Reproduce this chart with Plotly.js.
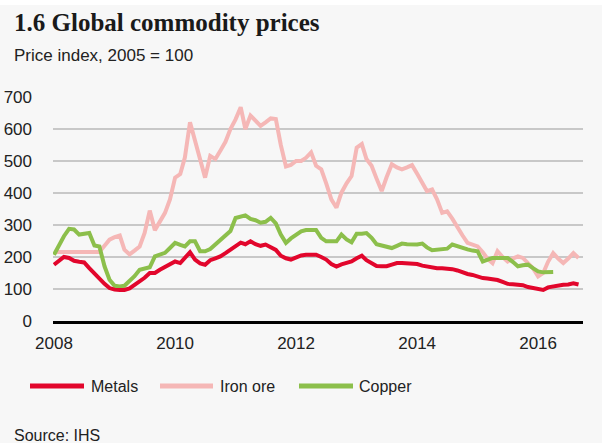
<!DOCTYPE html>
<html>
<head>
<meta charset="utf-8">
<script src="https://cdn.plot.ly/plotly-3.0.1.min.js"></script>
<style>
  html, body { margin: 0; padding: 0; background: #f7f7f7; }
  #chart { width: 602px; height: 443px; }
</style>
</head>
<body>
<div id="chart"></div>
<script>
// ---- Data (monthly, starting January 2008), price index 2005 = 100 ----
const startYear = 2008;
const startMonth = 1;

const seriesNames = ["Metals", "Iron ore", "Copper"];

const metals = [
  176, 190, 200, 197, 188, 185, 183, 165, 148, 130,
  116, 103, 98, 97, 97, 102, 112, 124, 135, 150,
  150, 160, 168, 176, 186, 181, 198, 215, 192, 180,
  176, 190, 196, 202, 212, 223, 235, 245, 240, 249,
  240, 235, 239, 230, 222, 204, 196, 192, 200, 205,
  207, 207, 207, 200, 192, 178, 170, 177, 181, 186,
  196, 204, 190, 180, 172, 171, 171, 176, 181, 181,
  181, 181, 178, 173, 171, 166, 165, 165, 165, 162,
  158, 152, 147, 144, 138, 134, 133, 132, 128, 122,
  116, 115, 114, 112, 106, 103, 98, 97, 105, 108,
  112, 113, 114, 118, 114
];

const ironOre = [
  216, 216, 216, 216, 216, 216, 216, 216, 216, 216,
  235, 254, 262, 267, 223, 208, 220, 233, 275, 345,
  284, 310, 338, 380, 448, 459, 511, 621, 560, 500,
  448, 516, 506, 532, 560, 600, 630, 668, 600, 642,
  625, 610, 621, 633, 631, 550, 483, 488, 500, 500,
  510, 527, 485, 474, 430, 380, 354, 401, 430, 453,
  542, 553, 506, 485, 445, 406, 450, 490, 480, 474,
  480, 487, 460, 430, 406, 411, 380, 338, 343, 320,
  291, 268, 244, 238, 233, 215, 195, 181, 218, 200,
  186, 195, 202, 197, 180, 165, 139, 150, 185, 212,
  195, 181, 195, 212, 197
];

const copper = [
  207, 240, 265, 288, 286, 270, 272, 275, 236, 233,
  171, 129, 110, 108, 110, 125, 140, 160, 163, 168,
  202, 207, 213, 228, 244, 238, 233, 249, 249, 218,
  218, 225, 239, 255, 270, 281, 322, 325, 330, 319,
  315, 307, 310, 322, 305, 270, 244, 258, 270, 280,
  284, 284, 284, 260, 249, 249, 249, 270, 255, 246,
  273, 273, 275, 260, 240, 236, 232, 228, 235, 242,
  240, 239, 239, 242, 230, 221, 222, 224, 226, 239,
  233, 228, 224, 220, 218, 186, 190, 197, 197, 197,
  197, 185, 171, 174, 176, 165, 155, 152, 152, 153
];

const yTicks = [0, 100, 200, 300, 400, 500, 600, 700];
const xTickYears = ["2008", "2010", "2012", "2014", "2016"];

const colors = ["#e2062c", "#f5b7b6", "#8cbf4b"];

// month labels
function monthDates(n) {
  const out = [];
  for (let i = 0; i < n; i++) {
    const total = (startMonth - 1) + i;
    const y = startYear + Math.floor(total / 12);
    const m = (total % 12) + 1;
    out.push(y + "-" + String(m).padStart(2, "0") + "-01");
  }
  return out;
}

const allSeries = [metals, ironOre, copper];
// draw order: iron ore underneath, then copper, then metals on top
const order = [1, 2, 0];
const traces = order.map(i => ({
  type: "scatter",
  mode: "lines",
  name: seriesNames[i],
  x: monthDates(allSeries[i].length),
  y: allSeries[i],
  line: { color: colors[i], width: 4, shape: "linear" },
  showlegend: false,
  hoverinfo: "x+y+name"
}));

// plot area geometry (pixels)
const L = 53, R = 583, T = 97, B = 321, W = 602, H = 443;
const pw = R - L, ph = B - T;
const px = v => (v - L) / pw;
const py = v => (B - v) / ph;

// legend (drawn as shapes + text)
const legendItems = [
  { x0: 30, x1: 84, tx: 89 },
  { x0: 160, x1: 213, tx: 218 },
  { x0: 299, x1: 353, tx: 357 }
];
const legendY = 386;

const shapes = [
  // white strip at the very top
  { type: "rect", xref: "paper", yref: "paper", x0: px(0), x1: px(W), y0: py(0), y1: py(5),
    fillcolor: "#ffffff", line: { width: 0 }, layer: "below" }
];
const annotations = [
  { xref: "paper", yref: "paper", x: px(12), y: py(22), xanchor: "left", yanchor: "middle",
    text: "<b>1.6 Global commodity prices</b>", showarrow: false,
    font: { family: "Liberation Serif, DejaVu Serif, serif", size: 25, color: "#1a1a1a" } },
  { xref: "paper", yref: "paper", x: px(12), y: py(55), xanchor: "left", yanchor: "middle",
    text: "Price index, 2005 = 100", showarrow: false,
    font: { family: "Liberation Sans, Arial, sans-serif", size: 17, color: "#222222" } },
  { xref: "paper", yref: "paper", x: px(12), y: py(435), xanchor: "left", yanchor: "middle",
    text: "Source: IHS", showarrow: false,
    font: { family: "Liberation Sans, Arial, sans-serif", size: 16, color: "#222222" } }
];
legendItems.forEach((it, i) => {
  shapes.push({ type: "line", xref: "paper", yref: "paper",
    x0: px(it.x0), x1: px(it.x1), y0: py(legendY), y1: py(legendY),
    line: { color: colors[i], width: 5 } });
  annotations.push({ xref: "paper", yref: "paper", x: px(it.tx), y: py(legendY),
    xanchor: "left", yanchor: "middle", text: seriesNames[i], showarrow: false,
    font: { family: "Liberation Sans, Arial, sans-serif", size: 16, color: "#222222" } });
});

const layout = {
  width: W, height: H,
  margin: { l: L, r: W - R, t: T, b: H - B, pad: 0 },
  paper_bgcolor: "#f7f7f7",
  plot_bgcolor: "#f7f7f7",
  showlegend: false,
  font: { family: "Liberation Sans, Arial, sans-serif", size: 17, color: "#222222" },
  xaxis: {
    type: "date",
    range: ["2007-12-26", "2016-09-28"],
    tickvals: xTickYears.map(y => y + "-01-01"),
    ticktext: xTickYears,
    showgrid: false,
    zeroline: false,
    showline: true,
    linecolor: "#000000",
    linewidth: 3,
    ticks: "",
    ticklabelstandoff: 5,
    tickfont: { size: 17, color: "#222222" }
  },
  yaxis: {
    range: [0, 700],
    tickvals: yTicks,
    ticktext: yTicks.map(String),
    showgrid: true,
    gridcolor: "#c8c8c8",
    gridwidth: 1.5,
    zeroline: false,
    showline: false,
    ticks: "",
    ticklabelstandoff: 20,
    tickfont: { size: 17, color: "#222222" }
  },
  shapes: shapes,
  annotations: annotations
};

Plotly.newPlot("chart", traces, layout, { displayModeBar: false, staticPlot: true });
</script>
</body>
</html>
